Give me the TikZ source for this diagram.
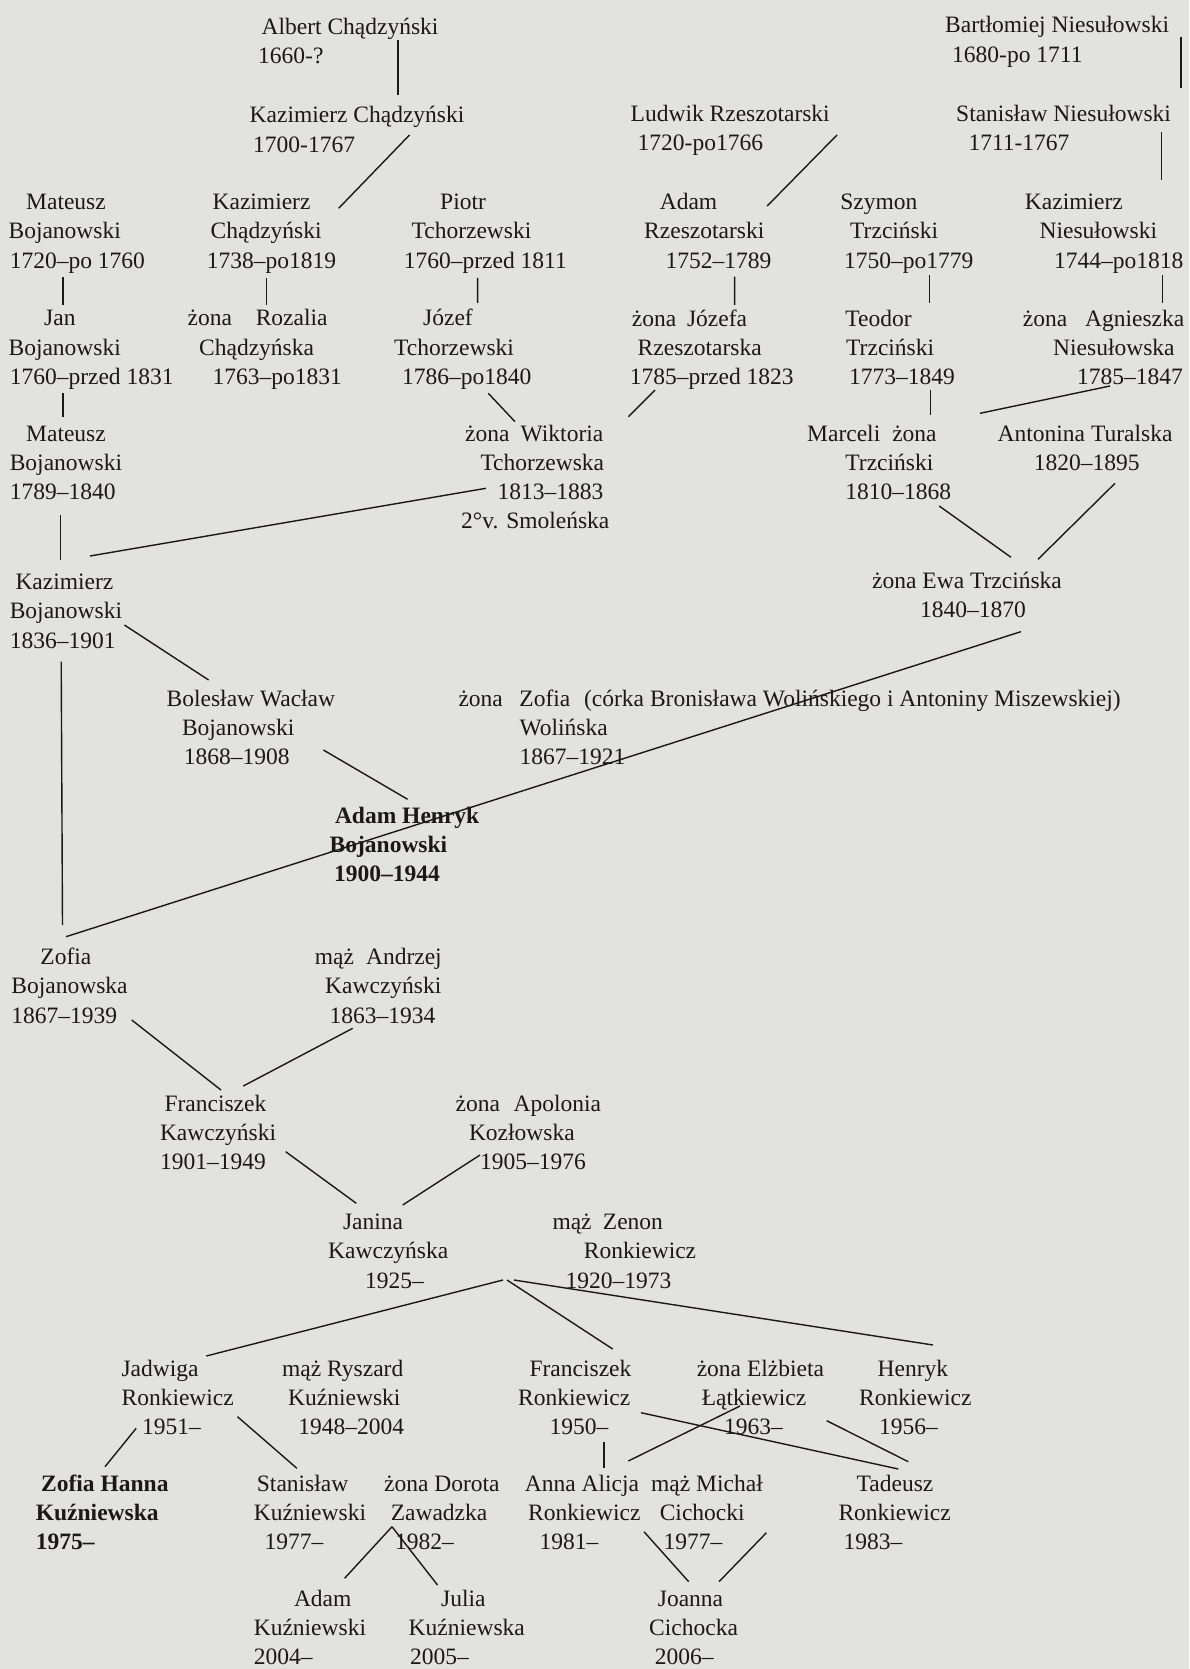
\documentclass[tikz,border=0pt]{standalone}
\usepackage{fontspec}
\setmainfont{Liberation Serif}
\definecolor{paper}{RGB}{226,226,223}
\definecolor{ink}{RGB}{28,24,24}
\newcommand\rowx[2]{\hbox{\hspace*{#1pt}#2}}
\newcommand\blk[1]{\vtop{#1}}
\newcommand\lnk[6]{\draw[conn] ([shift={(#2,#3)}]#1.base west) -- ([shift={(#5,#6)}]#4.base west);}
\begin{document}
\begin{tikzpicture}[x=1pt,y=-1pt,
  person/.style={anchor=base west,inner sep=0pt,text=ink,font=\fontsize{23.5}{29.2}\selectfont},
  boldperson/.style={person,font=\fontsize{23.5}{29.2}\selectfont\bfseries},
  conn/.style={draw=ink,line width=1.4pt}]
\fill[paper] (0,0) rectangle (1189,1669);
\useasboundingbox (0,0) rectangle (1189,1669);
% ---- generation rows, left part
\node[person] (albert) at (258,34.7) {\blk{\rowx{3.4}{Albert Chądzyński}\rowx{0}{1660-?}}};
\node[person] (kaz1700) at (249.5,123) {\blk{\rowx{0}{Kazimierz Chądzyński}\rowx{3.5}{1700-1767}}};
\node[person] (mat1720) at (8.4,209.7) {\blk{\rowx{17.6}{Mateusz}\rowx{0}{Bojanowski}\rowx{1.2}{1720–po 1760}}};
\node[person] (kaz1738) at (206.7,209.7) {\blk{\rowx{5.7}{Kazimierz}\rowx{3.8}{Chądzyński}\rowx{0}{1738–po1819}}};
\node[person] (piotr) at (403.7,209.7) {\blk{\rowx{36.3}{Piotr}\rowx{7.7}{Tchorzewski}\rowx{0}{1760–przed 1811}}};
\node[person] (jan) at (8.4,326) {\blk{\rowx{35.6}{Jan}\rowx{0}{Bojanowski}\rowx{1.2}{1760–przed 1831}}};
\node[person] (rozalia) at (187.5,326) {\blk{\rowx{0}{żona\hspace{23.7pt}Rozalia}\rowx{11.5}{Chądzyńska}\rowx{24.9}{1763–po1831}}};
\node[person] (jozef) at (394,326) {\blk{\rowx{29}{Józef}\rowx{0}{Tchorzewski}\rowx{7.8}{1786–po1840}}};
\node[person] (mat1789) at (9.6,441.3) {\blk{\rowx{16.4}{Mateusz}\rowx{0}{Bojanowski}\rowx{0}{1789–1840}}};
\node[person] (wiktoria) at (461,441.3) {\blk{\rowx{4}{żona\hspace{11.1pt}Wiktoria}\rowx{19.3}{Tchorzewska}\rowx{36.5}{1813–1883}\rowx{0}{2°v. Smoleńska}}};
\node[person] (kaz1836) at (9.6,589.7) {\blk{\rowx{5.7}{Kazimierz}\rowx{0}{Bojanowski}\rowx{0}{1836–1901}}};
\node[person] (boleslaw) at (166.5,706.3) {\blk{\rowx{0}{Bolesław Wacław}\rowx{15.3}{Bojanowski}\rowx{17.2}{1868–1908}}};
\node[person] (wolinska) at (458.3,706.3) {\blk{\rowx{0}{żona\hspace{16.6pt}Zofia\hspace{13.8pt}(córka Bronisława Wolińskiego i Antoniny Miszewskiej)}\rowx{61}{Wolińska}\rowx{61}{1867–1921}}};
\node[boldperson] (adamh) at (329.5,823) {\blk{\rowx{5.3}{Adam Henryk}\rowx{0}{Bojanowski}\rowx{4.5}{1900–1944}}};
\node[person] (zofiab) at (11.2,964.7) {\blk{\rowx{29}{Zofia}\rowx{0}{Bojanowska}\rowx{0}{1867–1939}}};
\node[person] (andrzej) at (314.7,964.7) {\blk{\rowx{0}{mąż\hspace{12pt}Andrzej}\rowx{10.3}{Kawczyński}\rowx{14.8}{1863–1934}}};
\node[person] (franciszekk) at (159.8,1111.3) {\blk{\rowx{4.5}{Franciszek}\rowx{0}{Kawczyński}\rowx{0}{1901–1949}}};
\node[person] (apolonia) at (455.4,1111.3) {\blk{\rowx{0}{żona\hspace{13.6pt}Apolonia}\rowx{13.4}{Kozłowska}\rowx{24.6}{1905–1976}}};
\node[person] (janina) at (328,1229.7) {\blk{\rowx{14.9}{Janina}\rowx{0}{Kawczyńska}\rowx{37}{1925–}}};
\node[person] (zenon) at (552.3,1229.7) {\blk{\rowx{0}{mąż\hspace{11.3pt}Zenon}\rowx{31.4}{Ronkiewicz}\rowx{13}{1920–1973}}};
\node[person] (jadwiga) at (121.4,1376.3) {\blk{\rowx{0}{Jadwiga}\rowx{0}{Ronkiewicz}\rowx{20.6}{1951–}}};
\node[person] (ryszard) at (282,1376.3) {\blk{\rowx{0}{mąż Ryszard}\rowx{6}{Kuźniewski}\rowx{16.2}{1948–2004}}};
\node[person] (franciszekr) at (517.9,1376.3) {\blk{\rowx{11.5}{Franciszek}\rowx{0}{Ronkiewicz}\rowx{31.4}{1950–}}};
\node[person] (elzbieta) at (696.6,1376.3) {\blk{\rowx{0}{żona Elżbieta}\rowx{5}{Łątkiewicz}\rowx{27.4}{1963–}}};
\node[person] (henryk) at (859,1376.3) {\blk{\rowx{18.5}{Henryk}\rowx{0}{Ronkiewicz}\rowx{20}{1956–}}};
\node[boldperson] (zofiah) at (35.7,1491.3) {\blk{\rowx{5.3}{Zofia Hanna}\rowx{0}{Kuźniewska}\rowx{0}{1975–}}};
\node[person] (stanislaw) at (253.6,1491.3) {\blk{\rowx{3.1}{Stanisław}\rowx{0}{Kuźniewski}\rowx{10.7}{1977–}}};
\node[person] (dorota) at (383.9,1491.3) {\blk{\rowx{0}{żona Dorota}\rowx{6.7}{Zawadzka}\rowx{11.1}{1982–}}};
\node[person] (anna) at (524.6,1491.3) {\blk{\rowx{0}{Anna Alicja}\rowx{3.4}{Ronkiewicz}\rowx{14.7}{1981–}}};
\node[person] (michal) at (651,1491.3) {\blk{\rowx{0}{mąż Michał}\rowx{8.6}{Cichocki}\rowx{12.5}{1977–}}};
\node[person] (tadeusz) at (838.3,1491.3) {\blk{\rowx{18.2}{Tadeusz}\rowx{0}{Ronkiewicz}\rowx{5}{1983–}}};
\node[person] (adamk) at (253.6,1606.5) {\blk{\rowx{40.2}{Adam}\rowx{0}{Kuźniewski}\rowx{0}{2004–}}};
\node[person] (julia) at (408.5,1606.5) {\blk{\rowx{32.5}{Julia}\rowx{0}{Kuźniewska}\rowx{1.3}{2005–}}};
\node[person] (joanna) at (649,1606.5) {\blk{\rowx{8.7}{Joanna}\rowx{0}{Cichocka}\rowx{5.6}{2006–}}};
% ---- right part
\node[person] (bartlomiej) at (945,33) {\blk{\rowx{0}{Bartłomiej Niesułowski}\rowx{7}{1680-po 1711}}};
\node[person] (ludwik) at (630.5,121.3) {\blk{\rowx{0}{Ludwik Rzeszotarski}\rowx{7}{1720-po1766}}};
\node[person] (stanislawn) at (956,121.3) {\blk{\rowx{0}{Stanisław Niesułowski}\rowx{12.3}{1711-1767}}};
\node[person] (adamr) at (644,209.7) {\blk{\rowx{15.6}{Adam}\rowx{0}{Rzeszotarski}\rowx{21.4}{1752–1789}}};
\node[person] (szymon) at (840.2,209.7) {\blk{\rowx{0}{Szymon}\rowx{9.8}{Trzciński}\rowx{3.8}{1750–po1779}}};
\node[person] (kazn) at (1024.7,209.7) {\blk{\rowx{0}{Kazimierz}\rowx{14.7}{Niesułowski}\rowx{29.1}{1744–po1818}}};
\node[person] (jozefa) at (629.7,326.3) {\blk{\rowx{2}{żona\hspace{10.8pt}Józefa}\rowx{7.8}{Rzeszotarska}\rowx{0}{1785–przed 1823}}};
\node[person] (teodor) at (845.2,326.3) {\blk{\rowx{0}{Teodor}\rowx{0.8}{Trzciński}\rowx{3.8}{1773–1849}}};
\node[person] (agnieszka) at (1022.7,326.3) {\blk{\rowx{0}{żona\hspace{17.8pt}Agnieszka}\rowx{30.3}{Niesułowska}\rowx{54.3}{1785–1847}}};
\node[person] (marceli) at (807,441.3) {\blk{\rowx{0}{Marceli\hspace{12pt}żona}\rowx{38.2}{Trzciński}\rowx{38.2}{1810–1868}}};
\node[person] (antonina) at (997.5,441.3) {\blk{\rowx{0}{Antonina Turalska}\rowx{36.1}{1820–1895}}};
\node[person] (ewa) at (872,588) {\blk{\rowx{0}{żona Ewa Trzcińska}\rowx{47.8}{1840–1870}}};
% ---- connectors
\lnk{albert}{140}{5.3}{kaz1700}{148.5}{-28}
\lnk{kaz1700}{160}{12}{kaz1738}{132}{-1.4}
\lnk{mat1720}{54.6}{67.3}{jan}{54.6}{-21}
\lnk{kaz1738}{60}{68.3}{rozalia}{79.2}{-21}
\lnk{piotr}{73.9}{68.3}{jozef}{83.6}{-23}
\lnk{jan}{54.6}{67}{mat1789}{53.4}{-24.3}
\lnk{jozef}{94.3}{67.3}{wiktoria}{54}{-19.6}
\lnk{jozefa}{25.3}{63.7}{wiktoria}{167.3}{-24.6}
\lnk{bartlomiej}{236}{3.7}{stanislawn}{225}{-33}
\lnk{stanislawn}{205.7}{10.4}{kazn}{137}{-29.7}
\lnk{ludwik}{206.5}{13.7}{adamr}{123.2}{-3.7}
\lnk{adamr}{90.6}{67}{jozefa}{104.9}{-21.3}
\lnk{szymon}{89.3}{65.3}{teodor}{84.3}{-23.3}
\lnk{kazn}{137.8}{65.3}{agnieszka}{139.8}{-23.3}
\lnk{teodor}{85.5}{63.7}{marceli}{123.7}{-26.3}
\lnk{agnieszka}{87.3}{59.7}{marceli}{173}{-28}
\lnk{mat1789}{50.9}{73.7}{kaz1836}{50.9}{-29.7}
\lnk{wiktoria}{25}{47}{kaz1836}{80.4}{-33.7}
\lnk{marceli}{132.2}{64.7}{ewa}{139}{-30.7}
\lnk{antonina}{117.5}{42}{ewa}{166}{-28.7}
\lnk{kaz1836}{114.8}{35.3}{boleslaw}{42.1}{-26.3}
\lnk{kaz1836}{51.6}{72}{zofiab}{51.3}{-39.7}
\lnk{ewa}{148.8}{43.7}{zofiab}{54.8}{-28}
\lnk{boleslaw}{156.9}{43.7}{adamh}{78.1}{-23.7}
\lnk{zofiab}{120.5}{55.3}{franciszekk}{61.2}{-21.3}
\lnk{andrzej}{38}{63.6}{franciszekk}{83.5}{-25.3}
\lnk{franciszekk}{125.9}{40.4}{janina}{28.3}{-26.4}
\lnk{apolonia}{24.6}{43.7}{janina}{74.7}{-24.7}
\lnk{zenon}{-49.3}{50.3}{jadwiga}{84.9}{-20.3}
\lnk{zenon}{-45.3}{50.3}{franciszekr}{94.8}{-27.3}
\lnk{zenon}{-38.3}{50.3}{henryk}{74}{-31.3}
\lnk{jadwiga}{14.8}{52}{zofiah}{69.3}{-24.6}
\lnk{jadwiga}{116.1}{40.4}{stanislaw}{43.3}{-23}
\lnk{franciszekr}{86.1}{65.4}{anna}{79.4}{-23}
\lnk{franciszekr}{123.1}{36.4}{tadeusz}{60}{-22.3}
\lnk{elzbieta}{43.4}{29.7}{anna}{103.7}{-30.3}
\lnk{elzbieta}{130.1}{44.4}{tadeusz}{70}{-29.6}
\lnk{dorota}{8.1}{35.4}{adamk}{91}{-28.2}
\lnk{dorota}{8.1}{35.4}{julia}{29}{-21.5}
\lnk{anna}{119.4}{40.4}{joanna}{39.7}{-24.8}
\lnk{michal}{115.4}{41.4}{joanna}{70}{-24.8}
\end{tikzpicture}
\end{document}
